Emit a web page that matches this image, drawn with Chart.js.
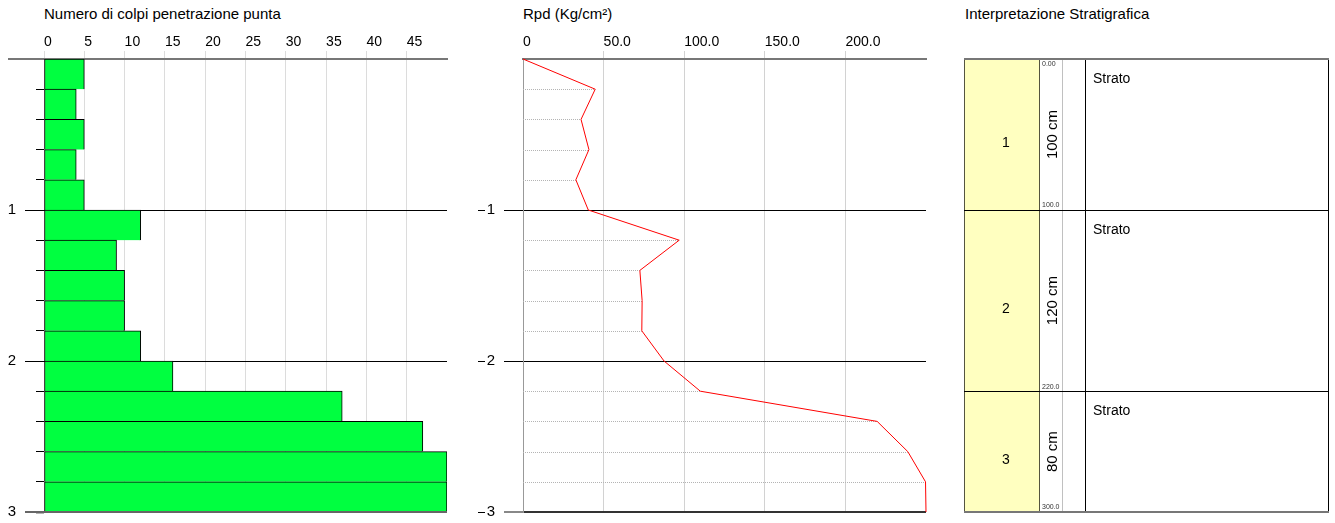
<!DOCTYPE html>
<html>
<head>
<meta charset="utf-8">
<script src="https://cdn.jsdelivr.net/npm/chart.js@4.4.1/dist/chart.umd.min.js"></script>
<style>
  body { margin: 0; background: #fff; }
  #wrap { position: relative; width: 1335px; height: 523px; overflow: hidden; }
  canvas { position: absolute; top: 0; }
  .title { position: absolute; top: 6px; font: 15px "Liberation Sans", Arial, sans-serif; line-height: 15px; color: #000; white-space: nowrap; }
</style>
</head>
<body>
<div id="wrap">
  <div class="title" style="left:44px">Numero di colpi penetrazione punta</div>
  <div class="title" style="left:523px">Rpd (Kg/cm²)</div>
  <div class="title" style="left:965px">Interpretazione Stratigrafica</div>
  <canvas id="colpi" width="460" height="523" style="left:0px"></canvas>
  <canvas id="rpdChart" width="470" height="523" style="left:470px"></canvas>
  <canvas id="strati" width="395" height="523" style="left:940px"></canvas>
</div>
<script>
// profondita' (m) fine di ogni tratto da 20 cm
const depthN = [0.2, 0.4, 0.6, 0.8, 1.0, 1.2, 1.4, 1.6, 1.8, 2.0, 2.2, 2.4, 2.6, 2.8, 3.0]
const colpi = [5, 4, 5, 4, 5, 12, 9, 10, 10, 12, 16, 37, 47, 50, 50]

const rpdDepth = [0, 0.2, 0.4, 0.6, 0.8, 1.0, 1.2, 1.4, 1.6, 1.8, 2.0, 2.2, 2.4, 2.6, 2.8, 3.0]
const rpd = [0, 44.8, 36.0, 40.9, 32.8, 40.5, 96.9, 72.5, 73.9, 73.7, 87.5, 110.0, 219.7, 238.7, 249.7, 250.0]

const colpiTicks = [0, 5, 10, 15, 20, 25, 30, 35, 40, 45]
const rpdTicks = ['0', '50.0', '100.0', '150.0', '200.0']

const layerIds = ['1', '2', '3']
const layerThickness = [100, 120, 80]
const layerNames = ['Strato', 'Strato', 'Strato']

Chart.defaults.font.family = '"Liberation Sans", Arial, sans-serif'
Chart.defaults.color = '#000'

const tickFont = { size: 14 }
const depthFont = { size: 15 }
const clear = 'rgba(0,0,0,0)'

function px(v) { return Math.round(v) + 0.5 }
function tv(ctx) { return ctx.tick ? ctx.tick.value : null }
function fixWidth(w) {
  return s => { s.width = w; s.paddingTop = 0; s.paddingBottom = 0 }
}
function fixHeight(h) {
  return s => { s.height = h; s.paddingLeft = 0; s.paddingRight = 0 }
}

// ---------- colpi ----------
const colpiExtras = {
  id: 'colpiExtras',
  afterDraw(chart) {
    const c = chart.ctx
    const a = chart.chartArea
    const y = chart.scales.y
    c.save()
    c.strokeStyle = '#777'
    c.lineWidth = 2
    c.beginPath()
    c.moveTo(8, Math.round(y.getPixelForValue(0)))
    c.lineTo(a.left, Math.round(y.getPixelForValue(0)))
    c.stroke()
    c.beginPath()
    c.strokeStyle = '#666'
    c.moveTo(25, Math.round(y.getPixelForValue(3)))
    c.lineTo(a.right, Math.round(y.getPixelForValue(3)))
    c.stroke()
    c.lineWidth = 1
    c.strokeStyle = '#000'
    for (const d of [1, 2]) {
      c.beginPath()
      c.moveTo(25, px(y.getPixelForValue(d)))
      c.lineTo(a.left, px(y.getPixelForValue(d)))
      c.stroke()
    }
    c.restore()
  }
}

new Chart(document.getElementById('colpi'), {
  type: 'bar',
  data: {
    datasets: [{
      data: colpi.map((v, i) => ({ x: v, y: depthN[i] - 0.1 })),
      backgroundColor: '#00ff40',
      borderColor: '#000',
      borderWidth: { top: 1, right: 1, bottom: 0, left: 1 },
      borderSkipped: false,
      barPercentage: 1,
      categoryPercentage: 1
    }]
  },
  options: {
    indexAxis: 'y',
    responsive: false,
    animation: false,
    layout: { padding: { right: 13, bottom: 11 } },
    plugins: { legend: { display: false }, tooltip: { enabled: false } },
    scales: {
      x: {
        type: 'linear',
        position: 'top',
        min: 0,
        max: 50,
        afterBuildTicks: s => { s.ticks = colpiTicks.map(v => ({ value: v })) },
        ticks: { align: 'start', padding: 0, font: tickFont, color: '#000' },
        grid: { color: '#dcdcdc', tickColor: '#dcdcdc', tickLength: 8 },
        border: { color: '#777', width: 2 },
        afterFit: fixHeight(59)
      },
      y: {
        type: 'linear',
        reverse: true,
        offset: false,
        min: 0,
        max: 3,
        ticks: {
          stepSize: 0.2,
          autoSkip: false,
          padding: 20,
          font: depthFont,
          color: '#000',
          callback: v => (Number.isInteger(v) && v > 0) ? v : ''
        },
        grid: {
          offset: false,
          tickLength: 8,
          color: ctx => (tv(ctx) === 1 || tv(ctx) === 2) ? '#000' : clear,
          tickColor: ctx => (tv(ctx) === 0 || tv(ctx) === null) ? clear : tv(ctx) === 3 ? '#666' : '#000',
          tickWidth: ctx => tv(ctx) === 3 ? 2 : 1
        },
        border: { display: false },
        afterFit: fixWidth(44)
      }
    }
  },
  plugins: [colpiExtras]
})

// ---------- Rpd ----------
const rpdExtras = {
  id: 'rpdExtras',
  beforeDatasetsDraw(chart) {
    const c = chart.ctx
    const x = chart.scales.x
    const y = chart.scales.y
    c.save()
    c.strokeStyle = '#b4b4b4'
    c.lineWidth = 1
    c.setLineDash([1, 1])
    rpdDepth.forEach((d, i) => {
      if (Number.isInteger(d)) return
      c.beginPath()
      c.moveTo(x.getPixelForValue(0), px(y.getPixelForValue(d)))
      c.lineTo(x.getPixelForValue(rpd[i]), px(y.getPixelForValue(d)))
      c.stroke()
    })
    c.restore()
  },
  afterDraw(chart) {
    const c = chart.ctx
    const y = chart.scales.y
    c.save()
    c.strokeStyle = '#000'
    c.lineWidth = 1
    for (const d of [1, 2, 3]) {
      c.beginPath()
      c.moveTo(8, px(y.getPixelForValue(d)))
      c.lineTo(15, px(y.getPixelForValue(d)))
      c.stroke()
    }
    c.restore()
  }
}

new Chart(document.getElementById('rpdChart'), {
  type: 'scatter',
  data: {
    datasets: [{
      data: rpd.map((v, i) => ({ x: v, y: rpdDepth[i] })),
      showLine: true,
      borderColor: '#ff0000',
      borderWidth: 1,
      pointRadius: 0,
      tension: 0,
      clip: false
    }]
  },
  options: {
    responsive: false,
    animation: false,
    layout: { padding: { right: 14, bottom: 11 } },
    plugins: { legend: { display: false }, tooltip: { enabled: false } },
    scales: {
      x: {
        type: 'linear',
        position: 'top',
        min: 0,
        max: 250,
        afterBuildTicks: s => { s.ticks = rpdTicks.map(t => ({ value: parseFloat(t) })) },
        ticks: {
          align: 'start',
          padding: 0,
          font: tickFont,
          color: '#000',
          callback: (v, i) => rpdTicks[i]
        },
        grid: {
          color: ctx => (tv(ctx) === 0 || tv(ctx) === null) ? clear : '#d2d2d2',
          tickColor: ctx => (tv(ctx) === 0 || tv(ctx) === null) ? clear : '#d2d2d2',
          tickLength: 8
        },
        border: { color: '#777', width: 2 },
        afterFit: fixHeight(59)
      },
      y: {
        type: 'linear',
        reverse: true,
        min: 0,
        max: 3,
        ticks: {
          stepSize: 1,
          padding: 9,
          font: depthFont,
          color: '#000',
          callback: v => v > 0 ? v : ''
        },
        grid: {
          tickLength: 19,
          color: ctx => (tv(ctx) === 0 || tv(ctx) === null) ? clear : tv(ctx) === 3 ? '#333' : '#000',
          lineWidth: ctx => tv(ctx) === 3 ? 2 : 1,
          tickColor: ctx => (tv(ctx) === 0 || tv(ctx) === null) ? clear : tv(ctx) === 3 ? '#888' : '#000',
          tickWidth: ctx => tv(ctx) === 3 ? 2 : 1
        },
        border: { color: '#999', width: 1 },
        afterFit: fixWidth(53)
      }
    }
  },
  plugins: [rpdExtras]
})

// ---------- interpretazione stratigrafica ----------
const stratiExtras = {
  id: 'stratiExtras',
  afterDatasetsDraw(chart) {
    const c = chart.ctx
    const a = chart.chartArea
    const y = chart.scales.y
    const farRight = a.right + 288
    const yTop = y.getPixelForValue(0)
    const yBot = y.getPixelForValue(layerThickness.reduce((s, t) => s + t, 0))
    c.save()
    // colonne
    c.lineWidth = 1
    c.strokeStyle = '#c0c0c0'
    c.beginPath()
    c.moveTo(px(a.right + 22), yTop)
    c.lineTo(px(a.right + 22), yBot)
    c.stroke()
    c.strokeStyle = '#000'
    for (const cx of [a.right + 45, farRight]) {
      c.beginPath()
      c.moveTo(px(cx), yTop)
      c.lineTo(px(cx), yBot)
      c.stroke()
    }
    let cum = 0
    layerThickness.forEach((t, i) => {
      const top = y.getPixelForValue(cum)
      const bottom = y.getPixelForValue(cum + t)
      const mid = (top + bottom) / 2
      if (i > 0) {
        c.strokeStyle = '#000'
        c.lineWidth = 1
        c.beginPath()
        c.moveTo(a.left, px(top))
        c.lineTo(farRight, px(top))
        c.stroke()
      }
      c.fillStyle = '#000'
      c.font = '14px "Liberation Sans", Arial, sans-serif'
      c.textAlign = 'center'
      c.textBaseline = 'middle'
      c.fillText(layerIds[i], (a.left + a.right) / 2 + 4, mid + 9)

      c.font = '14px "Liberation Sans", Arial, sans-serif'
      c.textAlign = 'left'
      c.textBaseline = 'alphabetic'
      c.fillText(layerNames[i], a.right + 53, top + 24)

      c.save()
      c.translate(a.right + 13, mid)
      c.rotate(-Math.PI / 2)
      c.font = '15px "Liberation Sans", Arial, sans-serif'
      c.textAlign = 'center'
      c.textBaseline = 'middle'
      c.fillText(t + ' cm', 0, 0)
      c.restore()

      c.font = '7px "Liberation Sans", Arial, sans-serif'
      c.fillStyle = '#333'
      c.textAlign = 'left'
      if (i === 0) {
        c.textBaseline = 'top'
        c.fillText(cum.toFixed(2), a.right + 2, top + 2)
      }
      c.textBaseline = 'bottom'
      c.fillText((cum + t).toFixed(1), a.right + 2, bottom - 1)
      cum += t
    })
    c.strokeStyle = '#777'
    c.lineWidth = 2
    for (const yy of [yTop, yBot]) {
      c.beginPath()
      c.moveTo(a.left, Math.round(yy))
      c.lineTo(farRight + 1, Math.round(yy))
      c.stroke()
    }
    c.restore()
  }
}

new Chart(document.getElementById('strati'), {
  type: 'bar',
  data: {
    labels: [''],
    datasets: layerThickness.map(t => ({
      data: [t],
      backgroundColor: '#ffffc0',
      borderColor: '#000',
      borderWidth: { top: 1, right: 1, bottom: 0, left: 1 },
      borderSkipped: false,
      barPercentage: 1,
      categoryPercentage: 1
    }))
  },
  options: {
    responsive: false,
    animation: false,
    layout: { padding: { left: 24, right: 295, top: 59, bottom: 11 } },
    plugins: { legend: { display: false }, tooltip: { enabled: false } },
    scales: {
      x: { display: false, stacked: true },
      y: { display: false, stacked: true, reverse: true, min: 0, max: 300 }
    }
  },
  plugins: [stratiExtras]
})
</script>
</body>
</html>
